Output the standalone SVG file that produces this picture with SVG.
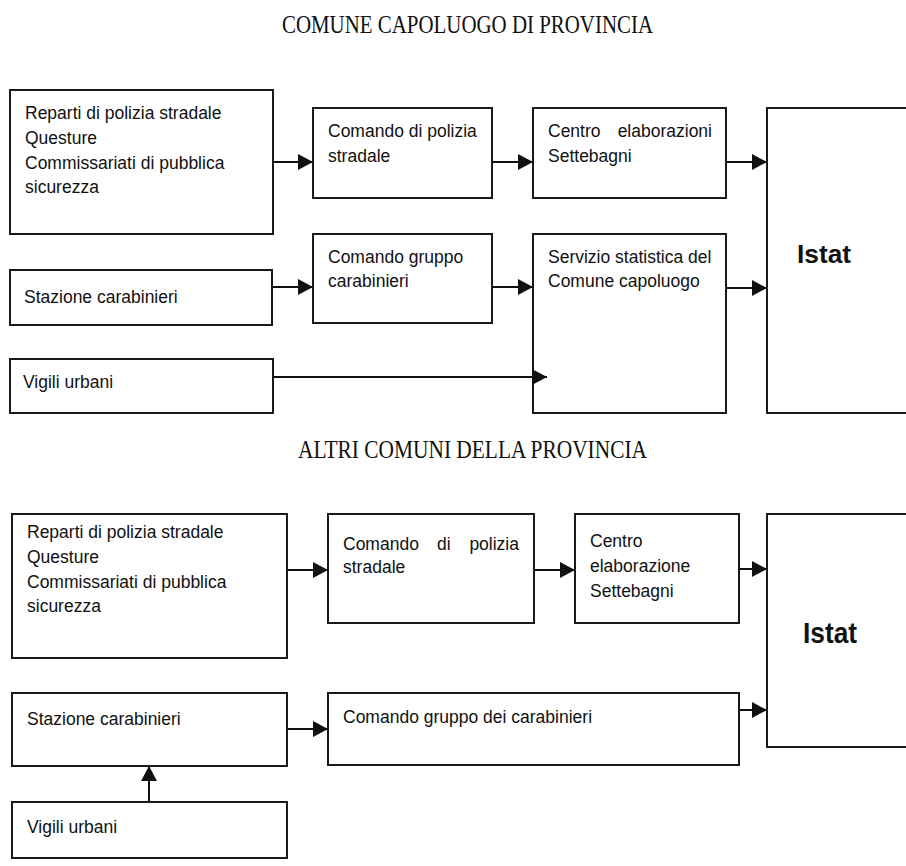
<svg xmlns="http://www.w3.org/2000/svg" width="906" height="866" viewBox="0 0 906 866">
<style>
.box{fill:#fff;stroke:#1a1a1a;stroke-width:2}
.t{font-family:"Liberation Sans",Arial,sans-serif;font-size:17.5px;fill:#111}
.b{font-family:"Liberation Sans",Arial,sans-serif;font-weight:bold;fill:#111}
.title{font-family:"Liberation Serif","Times New Roman",serif;font-size:26px;fill:#111}
.c{fill:none;stroke:#111;stroke-width:2}
</style>
<defs>
<marker id="ah" markerUnits="userSpaceOnUse" markerWidth="16" markerHeight="18" refX="15" refY="8" orient="auto">
<path d="M0,0 L15,8 L0,16 z" fill="#111"/>
</marker>
</defs>
<rect width="906" height="866" fill="#fff"/>
<text class="title" x="282" y="33" textLength="371" lengthAdjust="spacingAndGlyphs">COMUNE CAPOLUOGO DI PROVINCIA</text>
<text class="title" x="298" y="458" textLength="349" lengthAdjust="spacingAndGlyphs">ALTRI COMUNI DELLA PROVINCIA</text>

<g id="t-reparti">
<rect class="box" x="10" y="90" width="263" height="144"/>
<text class="t" x="25" y="119">Reparti di polizia stradale</text>
<text class="t" x="25" y="144">Questure</text>
<text class="t" x="25" y="169">Commissariati di pubblica</text>
<text class="t" x="25" y="193">sicurezza</text>
</g>
<g id="t-comando-polizia">
<rect class="box" x="313" y="108" width="179" height="90"/>
<text class="t" x="328" y="137">Comando di polizia</text>
<text class="t" x="328" y="162">stradale</text>
</g>
<g id="t-centro">
<rect class="box" x="533" y="108" width="193" height="90"/>
<text class="t" x="548" y="137">Centro</text>
<text class="t" x="712" y="137" text-anchor="end">elaborazioni</text>
<text class="t" x="548" y="162">Settebagni</text>
</g>
<g id="t-istat">
<rect class="box" x="767" y="108" width="150" height="305"/>
<text class="b" x="797" y="263" font-size="26" textLength="54" lengthAdjust="spacingAndGlyphs">Istat</text>
</g>
<g id="t-stazione">
<rect class="box" x="10" y="270" width="262" height="55"/>
<text class="t" x="24" y="303">Stazione carabinieri</text>
</g>
<g id="t-comando-gruppo">
<rect class="box" x="313" y="234" width="179" height="89"/>
<text class="t" x="328" y="263">Comando gruppo</text>
<text class="t" x="328" y="287">carabinieri</text>
</g>
<g id="t-servizio">
<rect class="box" x="533" y="234" width="193" height="179"/>
<text class="t" x="548" y="263">Servizio statistica del</text>
<text class="t" x="548" y="287">Comune capoluogo</text>
</g>
<g id="t-vigili">
<rect class="box" x="10" y="359" width="263" height="54"/>
<text class="t" x="23" y="388">Vigili urbani</text>
</g>

<g id="b-reparti">
<rect class="box" x="12" y="514" width="275" height="144"/>
<text class="t" x="27" y="538">Reparti di polizia stradale</text>
<text class="t" x="27" y="563">Questure</text>
<text class="t" x="27" y="588">Commissariati di pubblica</text>
<text class="t" x="27" y="612">sicurezza</text>
</g>
<g id="b-comando-polizia">
<rect class="box" x="328" y="514" width="206" height="109"/>
<text class="t" x="343" y="550">Comando</text>
<text class="t" x="437" y="550">di</text>
<text class="t" x="519" y="550" text-anchor="end">polizia</text>
<text class="t" x="343" y="573">stradale</text>
</g>
<g id="b-centro">
<rect class="box" x="575" y="514" width="164" height="109"/>
<text class="t" x="590" y="547">Centro</text>
<text class="t" x="590" y="572">elaborazione</text>
<text class="t" x="590" y="597">Settebagni</text>
</g>
<g id="b-istat">
<rect class="box" x="767" y="514" width="150" height="233"/>
<text class="b" x="803" y="643" font-size="30" textLength="54" lengthAdjust="spacingAndGlyphs">Istat</text>
</g>
<g id="b-stazione">
<rect class="box" x="12" y="693" width="275" height="73"/>
<text class="t" x="27" y="725">Stazione carabinieri</text>
</g>
<g id="b-comando-gruppo">
<rect class="box" x="328" y="693" width="411" height="72"/>
<text class="t" x="343" y="723">Comando gruppo dei carabinieri</text>
</g>
<g id="b-vigili">
<rect class="box" x="12" y="802" width="275" height="56"/>
<text class="t" x="27" y="833">Vigili urbani</text>
</g>

<g id="connectors">
<line class="c" x1="273" y1="162" x2="313" y2="162" marker-end="url(#ah)"/>
<line class="c" x1="492" y1="162" x2="533" y2="162" marker-end="url(#ah)"/>
<line class="c" x1="726" y1="162" x2="767" y2="162" marker-end="url(#ah)"/>
<line class="c" x1="272" y1="287" x2="313" y2="287" marker-end="url(#ah)"/>
<line class="c" x1="492" y1="287" x2="533" y2="287" marker-end="url(#ah)"/>
<line class="c" x1="726" y1="288" x2="767" y2="288" marker-end="url(#ah)"/>
<line class="c" x1="273" y1="377" x2="547" y2="377" marker-end="url(#ah)"/>
<line class="c" x1="287" y1="570" x2="328" y2="570" marker-end="url(#ah)"/>
<line class="c" x1="534" y1="570" x2="575" y2="570" marker-end="url(#ah)"/>
<line class="c" x1="739" y1="569" x2="767" y2="569" marker-end="url(#ah)"/>
<line class="c" x1="739" y1="710" x2="767" y2="710" marker-end="url(#ah)"/>
<line class="c" x1="287" y1="729" x2="328" y2="729" marker-end="url(#ah)"/>
<line class="c" x1="149" y1="802" x2="149" y2="766" marker-end="url(#ah)"/>
</g>
</svg>
